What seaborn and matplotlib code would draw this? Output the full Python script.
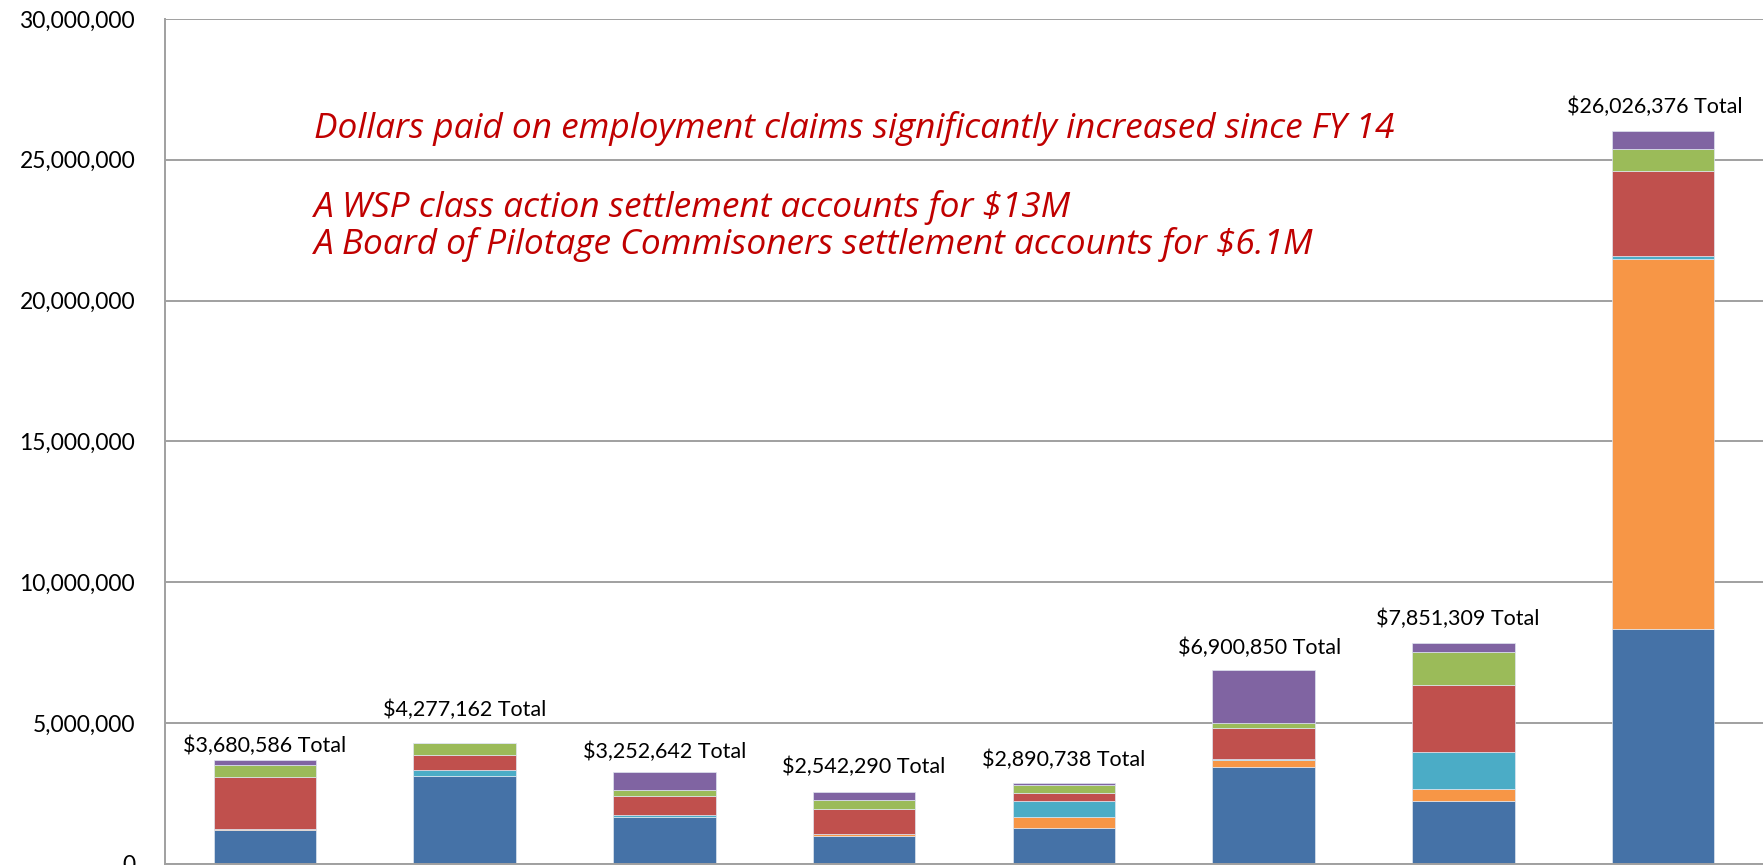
import numpy as np
import matplotlib
matplotlib.use("Agg")
import matplotlib.pyplot as plt
from matplotlib.ticker import FuncFormatter
import seaborn as sns

# fiscal years (tick labels are cut off in the original picture)
years = ["FY 12", "FY 13", "FY 14", "FY 15", "FY 16", "FY 17", "FY 18", "FY 19"]

# stacked segments, bottom to top (dollars)
seg_blue = [1200000, 3140000, 1680000, 980000, 1290000, 3440000, 2230000, 8350000]
seg_orange = [40000, 0, 0, 80000, 380000, 270000, 440000, 13120000]
seg_teal = [0, 180000, 70000, 10000, 580000, 20000, 1320000, 100000]
seg_red = [1860000, 540000, 660000, 900000, 270000, 1090000, 2380000, 3030000]
seg_green = [430000, 420000, 230000, 290000, 300000, 200000, 1160000, 780000]
seg_purple = [150000, 0, 610000, 280000, 70000, 1880000, 320000, 640000]

totals = [3680586, 4277162, 3252642, 2542290, 2890738, 6900850, 7851309, 26026376]

series = [seg_blue, seg_orange, seg_teal, seg_red, seg_green, seg_purple]
colors = ["#4572A7", "#F79646", "#4BACC6", "#C0504D", "#9BBB59", "#8064A2"]

sns.set_style("white")
plt.rcParams["font.family"] = ["Lato", "DejaVu Sans"]

fig = plt.figure(figsize=(17.63, 8.65), dpi=100)
ax = fig.add_axes([165 / 1763, 1 / 865, 1 - 165 / 1763, 845 / 865])

bottom = np.zeros(len(years))
for vals, col in zip(series, colors):
    sns.barplot(x=years, y=vals, bottom=bottom, color=col, width=0.514,
                saturation=1, edgecolor="#dfe6f0", linewidth=0.5, ax=ax)
    bottom = bottom + np.array(vals)

# total labels above each stack
gap_px = [8, 27, 14, 19, 17, 16, 18, 18]
shift_px = [0, 0, 0, 0, 0, -4, -6, -8]
for i, t in enumerate(totals):
    ax.annotate(f"${t:,} Total", (i, bottom[i]), xytext=(shift_px[i], gap_px[i]),
                textcoords="offset pixels", ha="center", va="baseline",
                fontsize=15.5, color="black")

ax.set_ylim(0, 30000000)
ax.set_xlim(-0.5, 7.5)
ax.set_yticks(np.arange(0, 30000001, 5000000))
ax.yaxis.set_major_formatter(FuncFormatter(lambda v, p: f"{v:,.0f}"))
ax.tick_params(axis="y", length=0, pad=21.5, labelsize=16.5, labelcolor="black")
ax.set_xticklabels([])
ax.tick_params(axis="x", length=0)
ax.set_xlabel("")
ax.set_ylabel("")

ax.grid(axis="y", color="#a0a0a0", linewidth=1.4)
ax.set_axisbelow(True)
for s in ["top", "right"]:
    ax.spines[s].set_visible(False)
ax.spines["left"].set_color("#a0a0a0")
ax.spines["left"].set_linewidth(1.4)
ax.spines["bottom"].set_color("#a0a0a0")
ax.spines["bottom"].set_linewidth(1.4)

red = "#C00000"
note_font = ["Open Sans", "DejaVu Sans"]
fig.text(314 / 1763, 1 - 138 / 865,
         "Dollars paid on employment claims significantly increased since FY 14",
         color=red, style="italic", fontsize=25.4, va="baseline", family=note_font)
fig.text(314 / 1763, 1 - 217 / 865,
         "A WSP class action settlement accounts for $13M",
         color=red, style="italic", fontsize=25.4, va="baseline", family=note_font)
fig.text(314 / 1763, 1 - 254 / 865,
         "A Board of Pilotage Commisoners settlement accounts for $6.1M",
         color=red, style="italic", fontsize=25.4, va="baseline", family=note_font)

fig.savefig("out.png", dpi=100)
